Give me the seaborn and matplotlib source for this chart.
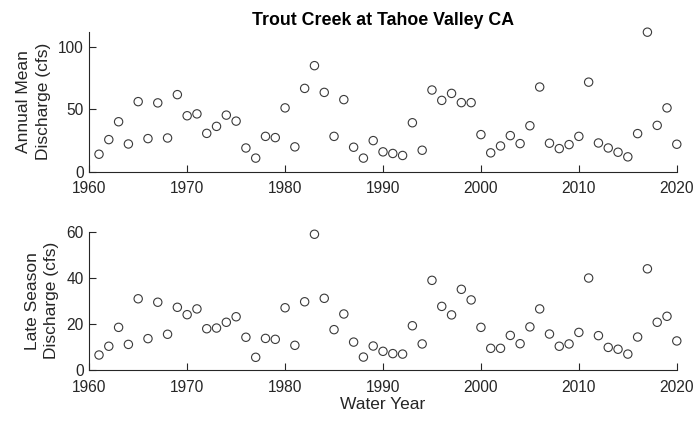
import numpy as np
import pandas as pd
import matplotlib
matplotlib.use("Agg")
import matplotlib.pyplot as plt
import seaborn as sns

# Water years 1961-2020
years = list(range(1961, 2021))

# Annual mean discharge (cfs)
annual_mean = [
    14.0, 25.7, 40.0, 22.2, 56.1, 26.5, 55.1, 27.0, 61.7, 44.8,
    46.3, 30.7, 36.3, 45.3, 40.5, 19.0, 10.9, 28.3, 27.3, 51.1,
    19.9, 66.7, 84.9, 63.5, 28.3, 57.7, 19.6, 10.9, 24.9, 15.9,
    14.6, 13.0, 39.2, 17.2, 65.4, 57.1, 62.7, 55.3, 55.3, 29.7,
    15.1, 20.6, 28.9, 22.5, 36.8, 67.8, 22.8, 18.5, 21.7, 28.3,
    71.7, 23.0, 19.0, 15.6, 11.9, 30.5, 111.7, 37.1, 51.1, 22.0,
]

# Late season discharge (cfs)
late_season = [
    6.5, 10.3, 18.5, 11.1, 30.9, 13.6, 29.4, 15.5, 27.2, 24.0,
    26.5, 17.9, 18.2, 20.7, 23.1, 14.2, 5.5, 13.7, 13.3, 27.0,
    10.7, 29.6, 58.9, 31.1, 17.5, 24.3, 12.1, 5.6, 10.4, 8.1,
    7.1, 6.9, 19.2, 11.3, 38.9, 27.6, 23.9, 35.0, 30.4, 18.5,
    9.4, 9.4, 15.0, 11.4, 18.7, 26.5, 15.6, 10.3, 11.3, 16.3,
    39.9, 14.9, 9.8, 9.0, 6.9, 14.3, 43.9, 20.7, 23.3, 12.6,
]

x_ticks = [1960, 1970, 1980, 1990, 2000, 2010, 2020]
top_yticks = [0, 50, 100]
bottom_yticks = [0, 20, 40, 60]

df = pd.DataFrame({"year": years, "annual": annual_mean, "late": late_season})

sns.set_theme(style="ticks")
plt.rcParams["font.family"] = ["Liberation Sans", "DejaVu Sans"]
axis_color = "#262626"
plt.rcParams.update({
    "axes.edgecolor": axis_color,
    "axes.labelcolor": axis_color,
    "xtick.color": axis_color,
    "ytick.color": axis_color,
    "text.color": axis_color,
})

fig = plt.figure(figsize=(6.97, 4.24), dpi=100)
ax1 = fig.add_axes([0.128, 0.595, 0.843, 0.330])
ax2 = fig.add_axes([0.128, 0.1274, 0.843, 0.3261])

marker_kw = dict(marker="o", s=36, linewidth=0.8, edgecolor="#3a3a3a",
                 facecolor="none", clip_on=False, zorder=3)

sns.scatterplot(data=df, x="year", y="annual", ax=ax1, **marker_kw)
sns.scatterplot(data=df, x="year", y="late", ax=ax2, **marker_kw)

for ax in (ax1, ax2):
    for coll in ax.collections:
        coll.set_facecolor("none")
        coll.set_clip_on(False)
    ax.set_xlim(1960, 2020)
    ax.set_xticks(x_ticks)
    ax.set_xticklabels([str(t) for t in x_ticks])
    ax.tick_params(direction="in", length=5, width=0.8, labelsize=11.2)
    ax.tick_params(axis="x", pad=7)
    ax.tick_params(axis="y", pad=4)
    for side in ("top", "right"):
        ax.spines[side].set_visible(False)
    for side in ("left", "bottom"):
        ax.spines[side].set_linewidth(0.8)

ax1.set_ylim(0, 112)
ax1.set_yticks(top_yticks)
ax2.set_ylim(0, 60)
ax2.set_yticks(bottom_yticks)

ax1.set_xlabel("")
ax1.set_ylabel("Annual Mean\nDischarge (cfs)", fontsize=12.5, labelpad=5,
               linespacing=1.4)
ax2.set_ylabel("Late Season\nDischarge (cfs)", fontsize=12.5, labelpad=5,
               linespacing=1.4)
ax2.set_xlabel("Water Year", fontsize=12.5, labelpad=2)
ax1.set_title("Trout Creek at Tahoe Valley CA", fontsize=12.8, fontweight="bold",
              color="black", pad=5)

fig.savefig("out.png", dpi=100)
